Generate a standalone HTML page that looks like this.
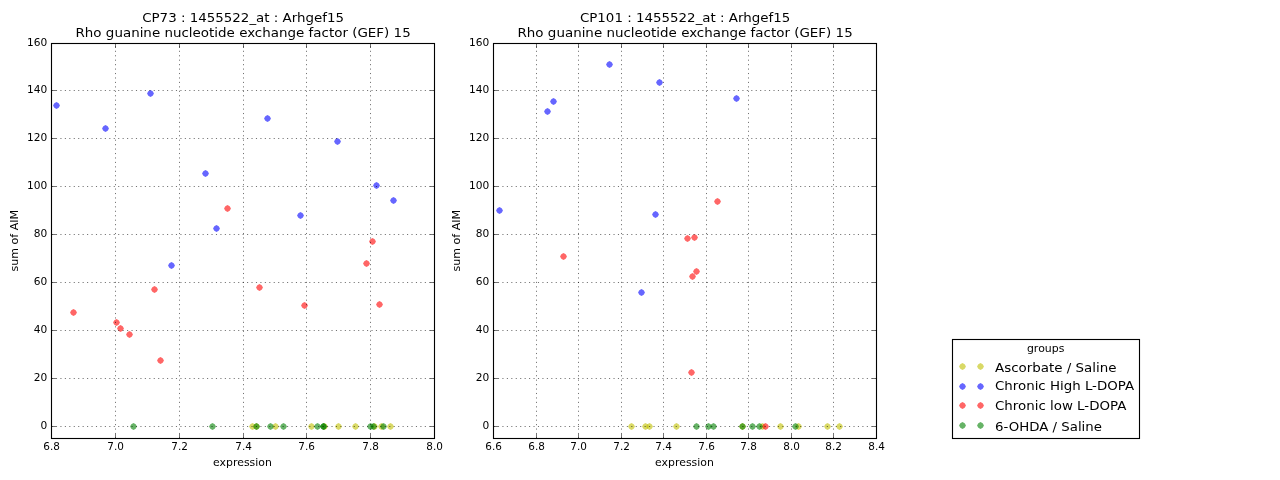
<!DOCTYPE html>
<html lang="en">
<head>
<meta charset="utf-8">
<title>Arhgef15 expression vs sum of AIM</title>
<style>
html,body{margin:0;padding:0;background:#fff;}
body{width:1280px;height:480px;overflow:hidden;}
svg{display:block;}
svg text{font-family:"DejaVu Sans", "Liberation Sans", sans-serif;fill:#000;}
</style>
</head>
<body>
<svg width="1280" height="480" viewBox="0 0 1280 480">
<rect width="1280" height="480" fill="#fff"/>
<g fill="#bfbf00" fill-opacity="0.6">
<path d="M255.95 426.5l-1.25 2.20 -2.20 1.25 -2.20 -1.25 -1.25 -2.20 1.25 -2.20 2.20 -1.25 2.20 1.25z"/>
<path d="M259.95 426.5l-1.25 2.20 -2.20 1.25 -2.20 -1.25 -1.25 -2.20 1.25 -2.20 2.20 -1.25 2.20 1.25z"/>
<path d="M278.95 426.5l-1.25 2.20 -2.20 1.25 -2.20 -1.25 -1.25 -2.20 1.25 -2.20 2.20 -1.25 2.20 1.25z"/>
<path d="M314.95 426.5l-1.25 2.20 -2.20 1.25 -2.20 -1.25 -1.25 -2.20 1.25 -2.20 2.20 -1.25 2.20 1.25z"/>
<path d="M327.95 426.5l-1.25 2.20 -2.20 1.25 -2.20 -1.25 -1.25 -2.20 1.25 -2.20 2.20 -1.25 2.20 1.25z"/>
<path d="M341.95 426.5l-1.25 2.20 -2.20 1.25 -2.20 -1.25 -1.25 -2.20 1.25 -2.20 2.20 -1.25 2.20 1.25z"/>
<path d="M358.95 426.5l-1.25 2.20 -2.20 1.25 -2.20 -1.25 -1.25 -2.20 1.25 -2.20 2.20 -1.25 2.20 1.25z"/>
<path d="M377.95 426.5l-1.25 2.20 -2.20 1.25 -2.20 -1.25 -1.25 -2.20 1.25 -2.20 2.20 -1.25 2.20 1.25z"/>
<path d="M384.95 426.5l-1.25 2.20 -2.20 1.25 -2.20 -1.25 -1.25 -2.20 1.25 -2.20 2.20 -1.25 2.20 1.25z"/>
<path d="M393.95 426.5l-1.25 2.20 -2.20 1.25 -2.20 -1.25 -1.25 -2.20 1.25 -2.20 2.20 -1.25 2.20 1.25z"/>
</g>
<g fill="#0000ff" fill-opacity="0.6">
<path d="M59.95 105.5l-1.25 2.20 -2.20 1.25 -2.20 -1.25 -1.25 -2.20 1.25 -2.20 2.20 -1.25 2.20 1.25z"/>
<path d="M108.95 128.5l-1.25 2.20 -2.20 1.25 -2.20 -1.25 -1.25 -2.20 1.25 -2.20 2.20 -1.25 2.20 1.25z"/>
<path d="M153.95 93.5l-1.25 2.20 -2.20 1.25 -2.20 -1.25 -1.25 -2.20 1.25 -2.20 2.20 -1.25 2.20 1.25z"/>
<path d="M270.95 118.5l-1.25 2.20 -2.20 1.25 -2.20 -1.25 -1.25 -2.20 1.25 -2.20 2.20 -1.25 2.20 1.25z"/>
<path d="M208.95 173.5l-1.25 2.20 -2.20 1.25 -2.20 -1.25 -1.25 -2.20 1.25 -2.20 2.20 -1.25 2.20 1.25z"/>
<path d="M340.95 141.5l-1.25 2.20 -2.20 1.25 -2.20 -1.25 -1.25 -2.20 1.25 -2.20 2.20 -1.25 2.20 1.25z"/>
<path d="M379.95 185.5l-1.25 2.20 -2.20 1.25 -2.20 -1.25 -1.25 -2.20 1.25 -2.20 2.20 -1.25 2.20 1.25z"/>
<path d="M396.95 200.5l-1.25 2.20 -2.20 1.25 -2.20 -1.25 -1.25 -2.20 1.25 -2.20 2.20 -1.25 2.20 1.25z"/>
<path d="M303.95 215.5l-1.25 2.20 -2.20 1.25 -2.20 -1.25 -1.25 -2.20 1.25 -2.20 2.20 -1.25 2.20 1.25z"/>
<path d="M219.95 228.5l-1.25 2.20 -2.20 1.25 -2.20 -1.25 -1.25 -2.20 1.25 -2.20 2.20 -1.25 2.20 1.25z"/>
<path d="M174.95 265.5l-1.25 2.20 -2.20 1.25 -2.20 -1.25 -1.25 -2.20 1.25 -2.20 2.20 -1.25 2.20 1.25z"/>
</g>
<g fill="#ff0000" fill-opacity="0.6">
<path d="M230.95 208.5l-1.25 2.20 -2.20 1.25 -2.20 -1.25 -1.25 -2.20 1.25 -2.20 2.20 -1.25 2.20 1.25z"/>
<path d="M375.95 241.5l-1.25 2.20 -2.20 1.25 -2.20 -1.25 -1.25 -2.20 1.25 -2.20 2.20 -1.25 2.20 1.25z"/>
<path d="M369.95 263.5l-1.25 2.20 -2.20 1.25 -2.20 -1.25 -1.25 -2.20 1.25 -2.20 2.20 -1.25 2.20 1.25z"/>
<path d="M157.95 289.5l-1.25 2.20 -2.20 1.25 -2.20 -1.25 -1.25 -2.20 1.25 -2.20 2.20 -1.25 2.20 1.25z"/>
<path d="M262.95 287.5l-1.25 2.20 -2.20 1.25 -2.20 -1.25 -1.25 -2.20 1.25 -2.20 2.20 -1.25 2.20 1.25z"/>
<path d="M307.95 305.5l-1.25 2.20 -2.20 1.25 -2.20 -1.25 -1.25 -2.20 1.25 -2.20 2.20 -1.25 2.20 1.25z"/>
<path d="M382.95 304.5l-1.25 2.20 -2.20 1.25 -2.20 -1.25 -1.25 -2.20 1.25 -2.20 2.20 -1.25 2.20 1.25z"/>
<path d="M76.95 312.5l-1.25 2.20 -2.20 1.25 -2.20 -1.25 -1.25 -2.20 1.25 -2.20 2.20 -1.25 2.20 1.25z"/>
<path d="M119.95 322.5l-1.25 2.20 -2.20 1.25 -2.20 -1.25 -1.25 -2.20 1.25 -2.20 2.20 -1.25 2.20 1.25z"/>
<path d="M123.95 328.5l-1.25 2.20 -2.20 1.25 -2.20 -1.25 -1.25 -2.20 1.25 -2.20 2.20 -1.25 2.20 1.25z"/>
<path d="M132.95 334.5l-1.25 2.20 -2.20 1.25 -2.20 -1.25 -1.25 -2.20 1.25 -2.20 2.20 -1.25 2.20 1.25z"/>
<path d="M163.95 360.5l-1.25 2.20 -2.20 1.25 -2.20 -1.25 -1.25 -2.20 1.25 -2.20 2.20 -1.25 2.20 1.25z"/>
</g>
<g fill="#008000" fill-opacity="0.6">
<path d="M136.95 426.5l-1.25 2.20 -2.20 1.25 -2.20 -1.25 -1.25 -2.20 1.25 -2.20 2.20 -1.25 2.20 1.25z"/>
<path d="M215.95 426.5l-1.25 2.20 -2.20 1.25 -2.20 -1.25 -1.25 -2.20 1.25 -2.20 2.20 -1.25 2.20 1.25z"/>
<path d="M259.95 426.5l-1.25 2.20 -2.20 1.25 -2.20 -1.25 -1.25 -2.20 1.25 -2.20 2.20 -1.25 2.20 1.25z"/>
<path d="M273.95 426.5l-1.25 2.20 -2.20 1.25 -2.20 -1.25 -1.25 -2.20 1.25 -2.20 2.20 -1.25 2.20 1.25z"/>
<path d="M286.95 426.5l-1.25 2.20 -2.20 1.25 -2.20 -1.25 -1.25 -2.20 1.25 -2.20 2.20 -1.25 2.20 1.25z"/>
<path d="M320.95 426.5l-1.25 2.20 -2.20 1.25 -2.20 -1.25 -1.25 -2.20 1.25 -2.20 2.20 -1.25 2.20 1.25z"/>
<path d="M326.95 426.5l-1.25 2.20 -2.20 1.25 -2.20 -1.25 -1.25 -2.20 1.25 -2.20 2.20 -1.25 2.20 1.25z"/>
<path d="M326.95 426.5l-1.25 2.20 -2.20 1.25 -2.20 -1.25 -1.25 -2.20 1.25 -2.20 2.20 -1.25 2.20 1.25z"/>
<path d="M373.95 426.5l-1.25 2.20 -2.20 1.25 -2.20 -1.25 -1.25 -2.20 1.25 -2.20 2.20 -1.25 2.20 1.25z"/>
<path d="M376.95 426.5l-1.25 2.20 -2.20 1.25 -2.20 -1.25 -1.25 -2.20 1.25 -2.20 2.20 -1.25 2.20 1.25z"/>
<path d="M386.95 426.5l-1.25 2.20 -2.20 1.25 -2.20 -1.25 -1.25 -2.20 1.25 -2.20 2.20 -1.25 2.20 1.25z"/>
</g>
<g stroke="#000" stroke-width="0.556" stroke-dasharray="1.111 3.333" fill="none">
<path d="M51.50 438.5V43.5"/>
<path d="M115.50 438.5V43.5"/>
<path d="M179.50 438.5V43.5"/>
<path d="M243.50 438.5V43.5"/>
<path d="M306.50 438.5V43.5"/>
<path d="M370.50 438.5V43.5"/>
<path d="M434.50 438.5V43.5"/>
<path d="M51.5 426.50H434.5"/>
<path d="M51.5 378.50H434.5"/>
<path d="M51.5 330.50H434.5"/>
<path d="M51.5 282.50H434.5"/>
<path d="M51.5 234.50H434.5"/>
<path d="M51.5 186.50H434.5"/>
<path d="M51.5 138.50H434.5"/>
<path d="M51.5 90.50H434.5"/>
<path d="M51.5 43.50H434.5"/>
</g>
<g stroke="#000" stroke-width="0.556" fill="none">
<path d="M51.50 438.5v-4.44M51.50 43.5v4.44"/>
<path d="M115.50 438.5v-4.44M115.50 43.5v4.44"/>
<path d="M179.50 438.5v-4.44M179.50 43.5v4.44"/>
<path d="M243.50 438.5v-4.44M243.50 43.5v4.44"/>
<path d="M306.50 438.5v-4.44M306.50 43.5v4.44"/>
<path d="M370.50 438.5v-4.44M370.50 43.5v4.44"/>
<path d="M434.50 438.5v-4.44M434.50 43.5v4.44"/>
<path d="M51.5 426.50h4.44M434.5 426.50h-4.44"/>
<path d="M51.5 378.50h4.44M434.5 378.50h-4.44"/>
<path d="M51.5 330.50h4.44M434.5 330.50h-4.44"/>
<path d="M51.5 282.50h4.44M434.5 282.50h-4.44"/>
<path d="M51.5 234.50h4.44M434.5 234.50h-4.44"/>
<path d="M51.5 186.50h4.44M434.5 186.50h-4.44"/>
<path d="M51.5 138.50h4.44M434.5 138.50h-4.44"/>
<path d="M51.5 90.50h4.44M434.5 90.50h-4.44"/>
<path d="M51.5 43.50h4.44M434.5 43.50h-4.44"/>
</g>
<rect x="51.5" y="43.5" width="383.0" height="395.0" fill="none" stroke="#000" stroke-width="1.11"/>
<text transform="translate(51.60 450.30) scale(0.94 1.0)" font-size="11.11" text-anchor="middle">6.8</text>
<text transform="translate(115.60 450.30) scale(0.94 1.0)" font-size="11.11" text-anchor="middle">7.0</text>
<text transform="translate(179.60 450.30) scale(0.94 1.0)" font-size="11.11" text-anchor="middle">7.2</text>
<text transform="translate(243.60 450.30) scale(0.94 1.0)" font-size="11.11" text-anchor="middle">7.4</text>
<text transform="translate(306.60 450.30) scale(0.94 1.0)" font-size="11.11" text-anchor="middle">7.6</text>
<text transform="translate(370.60 450.30) scale(0.94 1.0)" font-size="11.11" text-anchor="middle">7.8</text>
<text transform="translate(434.60 450.30) scale(0.94 1.0)" font-size="11.11" text-anchor="middle">8.0</text>
<text transform="translate(47.35 429.10) scale(0.955 1.0)" font-size="11.11" text-anchor="end">0</text>
<text transform="translate(47.35 381.10) scale(0.955 1.0)" font-size="11.11" text-anchor="end">20</text>
<text transform="translate(47.35 333.10) scale(0.955 1.0)" font-size="11.11" text-anchor="end">40</text>
<text transform="translate(47.35 285.10) scale(0.955 1.0)" font-size="11.11" text-anchor="end">60</text>
<text transform="translate(47.35 237.10) scale(0.955 1.0)" font-size="11.11" text-anchor="end">80</text>
<text transform="translate(47.35 189.10) scale(0.955 1.0)" font-size="11.11" text-anchor="end">100</text>
<text transform="translate(47.35 141.10) scale(0.955 1.0)" font-size="11.11" text-anchor="end">120</text>
<text transform="translate(47.35 93.10) scale(0.955 1.0)" font-size="11.11" text-anchor="end">140</text>
<text transform="translate(47.35 46.10) scale(0.955 1.0)" font-size="11.11" text-anchor="end">160</text>
<text transform="translate(242.50 466.00) scale(0.981 1.0)" font-size="11.11" text-anchor="middle">expression</text>
<text transform="translate(18.45 240.70) rotate(-90) scale(0.995 1.0)" font-size="11.11" text-anchor="middle">sum of AIM</text>
<text transform="translate(243.10 22.00) scale(1.006 0.93)" font-size="13.33" text-anchor="middle">CP73 : 1455522_at : Arhgef15</text>
<text transform="translate(243.10 37.00) scale(1.0085 0.92)" font-size="13.33" text-anchor="middle">Rho guanine nucleotide exchange factor (GEF) 15</text>
<g fill="#bfbf00" fill-opacity="0.6">
<path d="M634.95 426.5l-1.25 2.20 -2.20 1.25 -2.20 -1.25 -1.25 -2.20 1.25 -2.20 2.20 -1.25 2.20 1.25z"/>
<path d="M648.95 426.5l-1.25 2.20 -2.20 1.25 -2.20 -1.25 -1.25 -2.20 1.25 -2.20 2.20 -1.25 2.20 1.25z"/>
<path d="M652.95 426.5l-1.25 2.20 -2.20 1.25 -2.20 -1.25 -1.25 -2.20 1.25 -2.20 2.20 -1.25 2.20 1.25z"/>
<path d="M679.95 426.5l-1.25 2.20 -2.20 1.25 -2.20 -1.25 -1.25 -2.20 1.25 -2.20 2.20 -1.25 2.20 1.25z"/>
<path d="M745.95 426.5l-1.25 2.20 -2.20 1.25 -2.20 -1.25 -1.25 -2.20 1.25 -2.20 2.20 -1.25 2.20 1.25z"/>
<path d="M765.95 426.5l-1.25 2.20 -2.20 1.25 -2.20 -1.25 -1.25 -2.20 1.25 -2.20 2.20 -1.25 2.20 1.25z"/>
<path d="M783.95 426.5l-1.25 2.20 -2.20 1.25 -2.20 -1.25 -1.25 -2.20 1.25 -2.20 2.20 -1.25 2.20 1.25z"/>
<path d="M801.95 426.5l-1.25 2.20 -2.20 1.25 -2.20 -1.25 -1.25 -2.20 1.25 -2.20 2.20 -1.25 2.20 1.25z"/>
<path d="M830.95 426.5l-1.25 2.20 -2.20 1.25 -2.20 -1.25 -1.25 -2.20 1.25 -2.20 2.20 -1.25 2.20 1.25z"/>
<path d="M842.95 426.5l-1.25 2.20 -2.20 1.25 -2.20 -1.25 -1.25 -2.20 1.25 -2.20 2.20 -1.25 2.20 1.25z"/>
</g>
<g fill="#0000ff" fill-opacity="0.6">
<path d="M612.95 64.5l-1.25 2.20 -2.20 1.25 -2.20 -1.25 -1.25 -2.20 1.25 -2.20 2.20 -1.25 2.20 1.25z"/>
<path d="M662.95 82.5l-1.25 2.20 -2.20 1.25 -2.20 -1.25 -1.25 -2.20 1.25 -2.20 2.20 -1.25 2.20 1.25z"/>
<path d="M556.95 101.5l-1.25 2.20 -2.20 1.25 -2.20 -1.25 -1.25 -2.20 1.25 -2.20 2.20 -1.25 2.20 1.25z"/>
<path d="M550.95 111.5l-1.25 2.20 -2.20 1.25 -2.20 -1.25 -1.25 -2.20 1.25 -2.20 2.20 -1.25 2.20 1.25z"/>
<path d="M739.95 98.5l-1.25 2.20 -2.20 1.25 -2.20 -1.25 -1.25 -2.20 1.25 -2.20 2.20 -1.25 2.20 1.25z"/>
<path d="M502.95 210.5l-1.25 2.20 -2.20 1.25 -2.20 -1.25 -1.25 -2.20 1.25 -2.20 2.20 -1.25 2.20 1.25z"/>
<path d="M658.95 214.5l-1.25 2.20 -2.20 1.25 -2.20 -1.25 -1.25 -2.20 1.25 -2.20 2.20 -1.25 2.20 1.25z"/>
<path d="M644.95 292.5l-1.25 2.20 -2.20 1.25 -2.20 -1.25 -1.25 -2.20 1.25 -2.20 2.20 -1.25 2.20 1.25z"/>
</g>
<g fill="#ff0000" fill-opacity="0.6">
<path d="M720.95 201.5l-1.25 2.20 -2.20 1.25 -2.20 -1.25 -1.25 -2.20 1.25 -2.20 2.20 -1.25 2.20 1.25z"/>
<path d="M690.95 238.5l-1.25 2.20 -2.20 1.25 -2.20 -1.25 -1.25 -2.20 1.25 -2.20 2.20 -1.25 2.20 1.25z"/>
<path d="M697.95 237.5l-1.25 2.20 -2.20 1.25 -2.20 -1.25 -1.25 -2.20 1.25 -2.20 2.20 -1.25 2.20 1.25z"/>
<path d="M566.95 256.5l-1.25 2.20 -2.20 1.25 -2.20 -1.25 -1.25 -2.20 1.25 -2.20 2.20 -1.25 2.20 1.25z"/>
<path d="M699.95 271.5l-1.25 2.20 -2.20 1.25 -2.20 -1.25 -1.25 -2.20 1.25 -2.20 2.20 -1.25 2.20 1.25z"/>
<path d="M695.95 276.5l-1.25 2.20 -2.20 1.25 -2.20 -1.25 -1.25 -2.20 1.25 -2.20 2.20 -1.25 2.20 1.25z"/>
<path d="M694.95 372.5l-1.25 2.20 -2.20 1.25 -2.20 -1.25 -1.25 -2.20 1.25 -2.20 2.20 -1.25 2.20 1.25z"/>
<path d="M768.95 426.5l-1.25 2.20 -2.20 1.25 -2.20 -1.25 -1.25 -2.20 1.25 -2.20 2.20 -1.25 2.20 1.25z"/>
</g>
<g fill="#008000" fill-opacity="0.6">
<path d="M699.95 426.5l-1.25 2.20 -2.20 1.25 -2.20 -1.25 -1.25 -2.20 1.25 -2.20 2.20 -1.25 2.20 1.25z"/>
<path d="M711.95 426.5l-1.25 2.20 -2.20 1.25 -2.20 -1.25 -1.25 -2.20 1.25 -2.20 2.20 -1.25 2.20 1.25z"/>
<path d="M716.95 426.5l-1.25 2.20 -2.20 1.25 -2.20 -1.25 -1.25 -2.20 1.25 -2.20 2.20 -1.25 2.20 1.25z"/>
<path d="M745.95 426.5l-1.25 2.20 -2.20 1.25 -2.20 -1.25 -1.25 -2.20 1.25 -2.20 2.20 -1.25 2.20 1.25z"/>
<path d="M755.95 426.5l-1.25 2.20 -2.20 1.25 -2.20 -1.25 -1.25 -2.20 1.25 -2.20 2.20 -1.25 2.20 1.25z"/>
<path d="M762.95 426.5l-1.25 2.20 -2.20 1.25 -2.20 -1.25 -1.25 -2.20 1.25 -2.20 2.20 -1.25 2.20 1.25z"/>
<path d="M798.95 426.5l-1.25 2.20 -2.20 1.25 -2.20 -1.25 -1.25 -2.20 1.25 -2.20 2.20 -1.25 2.20 1.25z"/>
</g>
<g stroke="#000" stroke-width="0.556" stroke-dasharray="1.111 3.333" fill="none">
<path d="M493.50 438.5V43.5"/>
<path d="M536.50 438.5V43.5"/>
<path d="M578.50 438.5V43.5"/>
<path d="M621.50 438.5V43.5"/>
<path d="M663.50 438.5V43.5"/>
<path d="M706.50 438.5V43.5"/>
<path d="M748.50 438.5V43.5"/>
<path d="M791.50 438.5V43.5"/>
<path d="M833.50 438.5V43.5"/>
<path d="M876.50 438.5V43.5"/>
<path d="M493.5 426.50H876.5"/>
<path d="M493.5 378.50H876.5"/>
<path d="M493.5 330.50H876.5"/>
<path d="M493.5 282.50H876.5"/>
<path d="M493.5 234.50H876.5"/>
<path d="M493.5 186.50H876.5"/>
<path d="M493.5 138.50H876.5"/>
<path d="M493.5 90.50H876.5"/>
<path d="M493.5 43.50H876.5"/>
</g>
<g stroke="#000" stroke-width="0.556" fill="none">
<path d="M493.50 438.5v-4.44M493.50 43.5v4.44"/>
<path d="M536.50 438.5v-4.44M536.50 43.5v4.44"/>
<path d="M578.50 438.5v-4.44M578.50 43.5v4.44"/>
<path d="M621.50 438.5v-4.44M621.50 43.5v4.44"/>
<path d="M663.50 438.5v-4.44M663.50 43.5v4.44"/>
<path d="M706.50 438.5v-4.44M706.50 43.5v4.44"/>
<path d="M748.50 438.5v-4.44M748.50 43.5v4.44"/>
<path d="M791.50 438.5v-4.44M791.50 43.5v4.44"/>
<path d="M833.50 438.5v-4.44M833.50 43.5v4.44"/>
<path d="M876.50 438.5v-4.44M876.50 43.5v4.44"/>
<path d="M493.5 426.50h4.44M876.5 426.50h-4.44"/>
<path d="M493.5 378.50h4.44M876.5 378.50h-4.44"/>
<path d="M493.5 330.50h4.44M876.5 330.50h-4.44"/>
<path d="M493.5 282.50h4.44M876.5 282.50h-4.44"/>
<path d="M493.5 234.50h4.44M876.5 234.50h-4.44"/>
<path d="M493.5 186.50h4.44M876.5 186.50h-4.44"/>
<path d="M493.5 138.50h4.44M876.5 138.50h-4.44"/>
<path d="M493.5 90.50h4.44M876.5 90.50h-4.44"/>
<path d="M493.5 43.50h4.44M876.5 43.50h-4.44"/>
</g>
<rect x="493.5" y="43.5" width="383.0" height="395.0" fill="none" stroke="#000" stroke-width="1.11"/>
<text transform="translate(493.60 450.30) scale(0.94 1.0)" font-size="11.11" text-anchor="middle">6.6</text>
<text transform="translate(536.60 450.30) scale(0.94 1.0)" font-size="11.11" text-anchor="middle">6.8</text>
<text transform="translate(578.60 450.30) scale(0.94 1.0)" font-size="11.11" text-anchor="middle">7.0</text>
<text transform="translate(621.60 450.30) scale(0.94 1.0)" font-size="11.11" text-anchor="middle">7.2</text>
<text transform="translate(663.60 450.30) scale(0.94 1.0)" font-size="11.11" text-anchor="middle">7.4</text>
<text transform="translate(706.60 450.30) scale(0.94 1.0)" font-size="11.11" text-anchor="middle">7.6</text>
<text transform="translate(748.60 450.30) scale(0.94 1.0)" font-size="11.11" text-anchor="middle">7.8</text>
<text transform="translate(791.60 450.30) scale(0.94 1.0)" font-size="11.11" text-anchor="middle">8.0</text>
<text transform="translate(833.60 450.30) scale(0.94 1.0)" font-size="11.11" text-anchor="middle">8.2</text>
<text transform="translate(876.60 450.30) scale(0.94 1.0)" font-size="11.11" text-anchor="middle">8.4</text>
<text transform="translate(489.35 429.10) scale(0.955 1.0)" font-size="11.11" text-anchor="end">0</text>
<text transform="translate(489.35 381.10) scale(0.955 1.0)" font-size="11.11" text-anchor="end">20</text>
<text transform="translate(489.35 333.10) scale(0.955 1.0)" font-size="11.11" text-anchor="end">40</text>
<text transform="translate(489.35 285.10) scale(0.955 1.0)" font-size="11.11" text-anchor="end">60</text>
<text transform="translate(489.35 237.10) scale(0.955 1.0)" font-size="11.11" text-anchor="end">80</text>
<text transform="translate(489.35 189.10) scale(0.955 1.0)" font-size="11.11" text-anchor="end">100</text>
<text transform="translate(489.35 141.10) scale(0.955 1.0)" font-size="11.11" text-anchor="end">120</text>
<text transform="translate(489.35 93.10) scale(0.955 1.0)" font-size="11.11" text-anchor="end">140</text>
<text transform="translate(489.35 46.10) scale(0.955 1.0)" font-size="11.11" text-anchor="end">160</text>
<text transform="translate(684.50 466.00) scale(0.981 1.0)" font-size="11.11" text-anchor="middle">expression</text>
<text transform="translate(460.45 240.70) rotate(-90) scale(0.995 1.0)" font-size="11.11" text-anchor="middle">sum of AIM</text>
<text transform="translate(685.10 22.00) scale(1.006 0.93)" font-size="13.33" text-anchor="middle">CP101 : 1455522_at : Arhgef15</text>
<text transform="translate(685.10 37.00) scale(1.0085 0.92)" font-size="13.33" text-anchor="middle">Rho guanine nucleotide exchange factor (GEF) 15</text>
<rect x="952.5" y="339.5" width="187" height="99" fill="#fff" stroke="#000" stroke-width="1.11"/>
<text transform="translate(1045.65 352.25) scale(0.985 1.0)" font-size="11.11" text-anchor="middle">groups</text>
<g fill="#bfbf00" fill-opacity="0.6"><path d="M965.95 366.5l-1.25 2.20 -2.20 1.25 -2.20 -1.25 -1.25 -2.20 1.25 -2.20 2.20 -1.25 2.20 1.25z"/><path d="M983.95 366.5l-1.25 2.20 -2.20 1.25 -2.20 -1.25 -1.25 -2.20 1.25 -2.20 2.20 -1.25 2.20 1.25z"/></g>
<text transform="translate(995.00 372.30) scale(1.007 0.93)" font-size="13.33">Ascorbate / Saline</text>
<g fill="#0000ff" fill-opacity="0.6"><path d="M965.95 386.5l-1.25 2.20 -2.20 1.25 -2.20 -1.25 -1.25 -2.20 1.25 -2.20 2.20 -1.25 2.20 1.25z"/><path d="M983.95 386.5l-1.25 2.20 -2.20 1.25 -2.20 -1.25 -1.25 -2.20 1.25 -2.20 2.20 -1.25 2.20 1.25z"/></g>
<text transform="translate(995.00 390.10) scale(1.004 0.93)" font-size="13.33">Chronic High L-DOPA</text>
<g fill="#ff0000" fill-opacity="0.6"><path d="M965.95 405.5l-1.25 2.20 -2.20 1.25 -2.20 -1.25 -1.25 -2.20 1.25 -2.20 2.20 -1.25 2.20 1.25z"/><path d="M983.95 405.5l-1.25 2.20 -2.20 1.25 -2.20 -1.25 -1.25 -2.20 1.25 -2.20 2.20 -1.25 2.20 1.25z"/></g>
<text transform="translate(995.00 410.20) scale(1.005 0.93)" font-size="13.33">Chronic low L-DOPA</text>
<g fill="#008000" fill-opacity="0.6"><path d="M965.95 425.5l-1.25 2.20 -2.20 1.25 -2.20 -1.25 -1.25 -2.20 1.25 -2.20 2.20 -1.25 2.20 1.25z"/><path d="M983.95 425.5l-1.25 2.20 -2.20 1.25 -2.20 -1.25 -1.25 -2.20 1.25 -2.20 2.20 -1.25 2.20 1.25z"/></g>
<text transform="translate(995.00 430.60) scale(1.001 0.93)" font-size="13.33">6-OHDA / Saline</text>
</svg>
</body>
</html>
